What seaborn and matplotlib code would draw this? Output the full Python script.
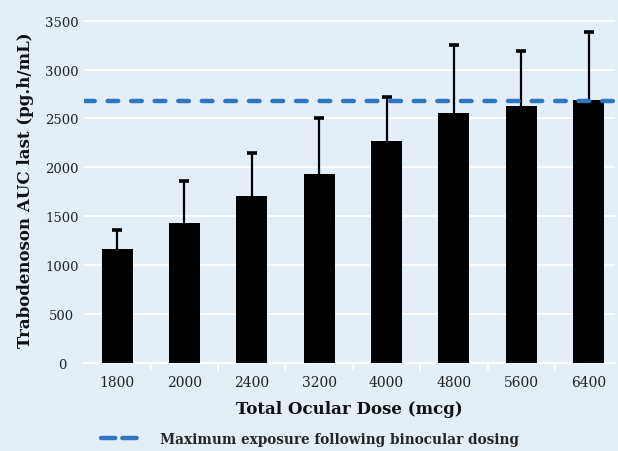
import numpy as np
import pandas as pd
import matplotlib
matplotlib.use("Agg")
import matplotlib.pyplot as plt
from matplotlib.lines import Line2D
import seaborn as sns

# Mean AUC and upper SD per total ocular dose
doses = ["1800", "2000", "2400", "3200", "4000", "4800", "5600", "6400"]
auc_mean = [1160, 1430, 1705, 1935, 2270, 2560, 2625, 2685]
auc_upper = [1360, 1865, 2150, 2500, 2722, 3255, 3195, 3385]
binocular_max = 2680

BG = "#e3eef7"
BLUE = "#2f76c0"
DASH = (0, (2.4, 2.9))

sns.set_theme(style="white")
plt.rcParams["font.family"] = ["DejaVu Serif", "DejaVu Sans"]

df = pd.DataFrame({"dose": doses, "auc": auc_mean})

fig = plt.figure(figsize=(6.18, 4.52), dpi=100, facecolor=BG)
ax = fig.add_axes([0.136, 0.195, 0.859, 0.77], facecolor=BG)

sns.barplot(data=df, x="dose", y="auc", color="black", width=0.46,
            saturation=1, errorbar=None, ax=ax, zorder=3,
            edgecolor="black", linewidth=0)

# upper-only error bars with a cap at the top
pos = np.arange(len(doses))
ax.vlines(pos, auc_mean, auc_upper, color="black", lw=1.6, zorder=2)
ax.plot(pos, auc_upper, ls="none", marker="_", markersize=7, mew=2.6,
        color="black", zorder=2)

ax.axhline(binocular_max, color=BLUE, lw=3.2, ls=DASH,
           dash_capstyle="round", zorder=4)

ax.set_ylim(0, 3560)
ax.set_xlim(-0.49, 7.39)
ax.set_yticks(range(0, 3501, 500))
ax.yaxis.grid(True, color="white", lw=1.4, zorder=0)
ax.set_axisbelow(True)
for s in ["top", "right", "left"]:
    ax.spines[s].set_visible(False)
ax.spines["bottom"].set_color("white")
ax.spines["bottom"].set_linewidth(1.4)

ax.set_xticks(pos)
ax.set_xticklabels(doses)
ax.set_xticks(pos[:-1] + 0.5, minor=True)
ax.tick_params(axis="x", which="minor", length=6, width=1.2, color="white", bottom=True)
ax.tick_params(axis="x", which="major", length=0, pad=9, labelsize=10, labelcolor="#222222")
ax.tick_params(axis="y", length=0, labelsize=9.5, labelcolor="#222222")
for t in ax.get_yticklabels():
    t.set_horizontalalignment("center")
ax.yaxis.set_tick_params(pad=16)

ax.set_xlabel("Total Ocular Dose (mcg)", fontsize=12, fontweight="bold",
              color="#111111", labelpad=8)
ax.set_ylabel("Trabodenoson AUC last (pg.h/mL)", fontsize=12, fontweight="bold",
              color="#111111")
ax.yaxis.set_label_coords(-0.095, 0.5)

handle = Line2D([], [], color=BLUE, lw=3.2, ls=(0, (3.2, 1.6)), dash_capstyle="round")
fig.legend([handle], ["Maximum exposure following binocular dosing"],
           loc="center left", bbox_to_anchor=(0.143, 0.027), frameon=False,
           handlelength=2.75, handletextpad=1.6,
           prop={"weight": "bold", "size": 9.8})

fig.savefig("out.png", dpi=100, facecolor=BG)
